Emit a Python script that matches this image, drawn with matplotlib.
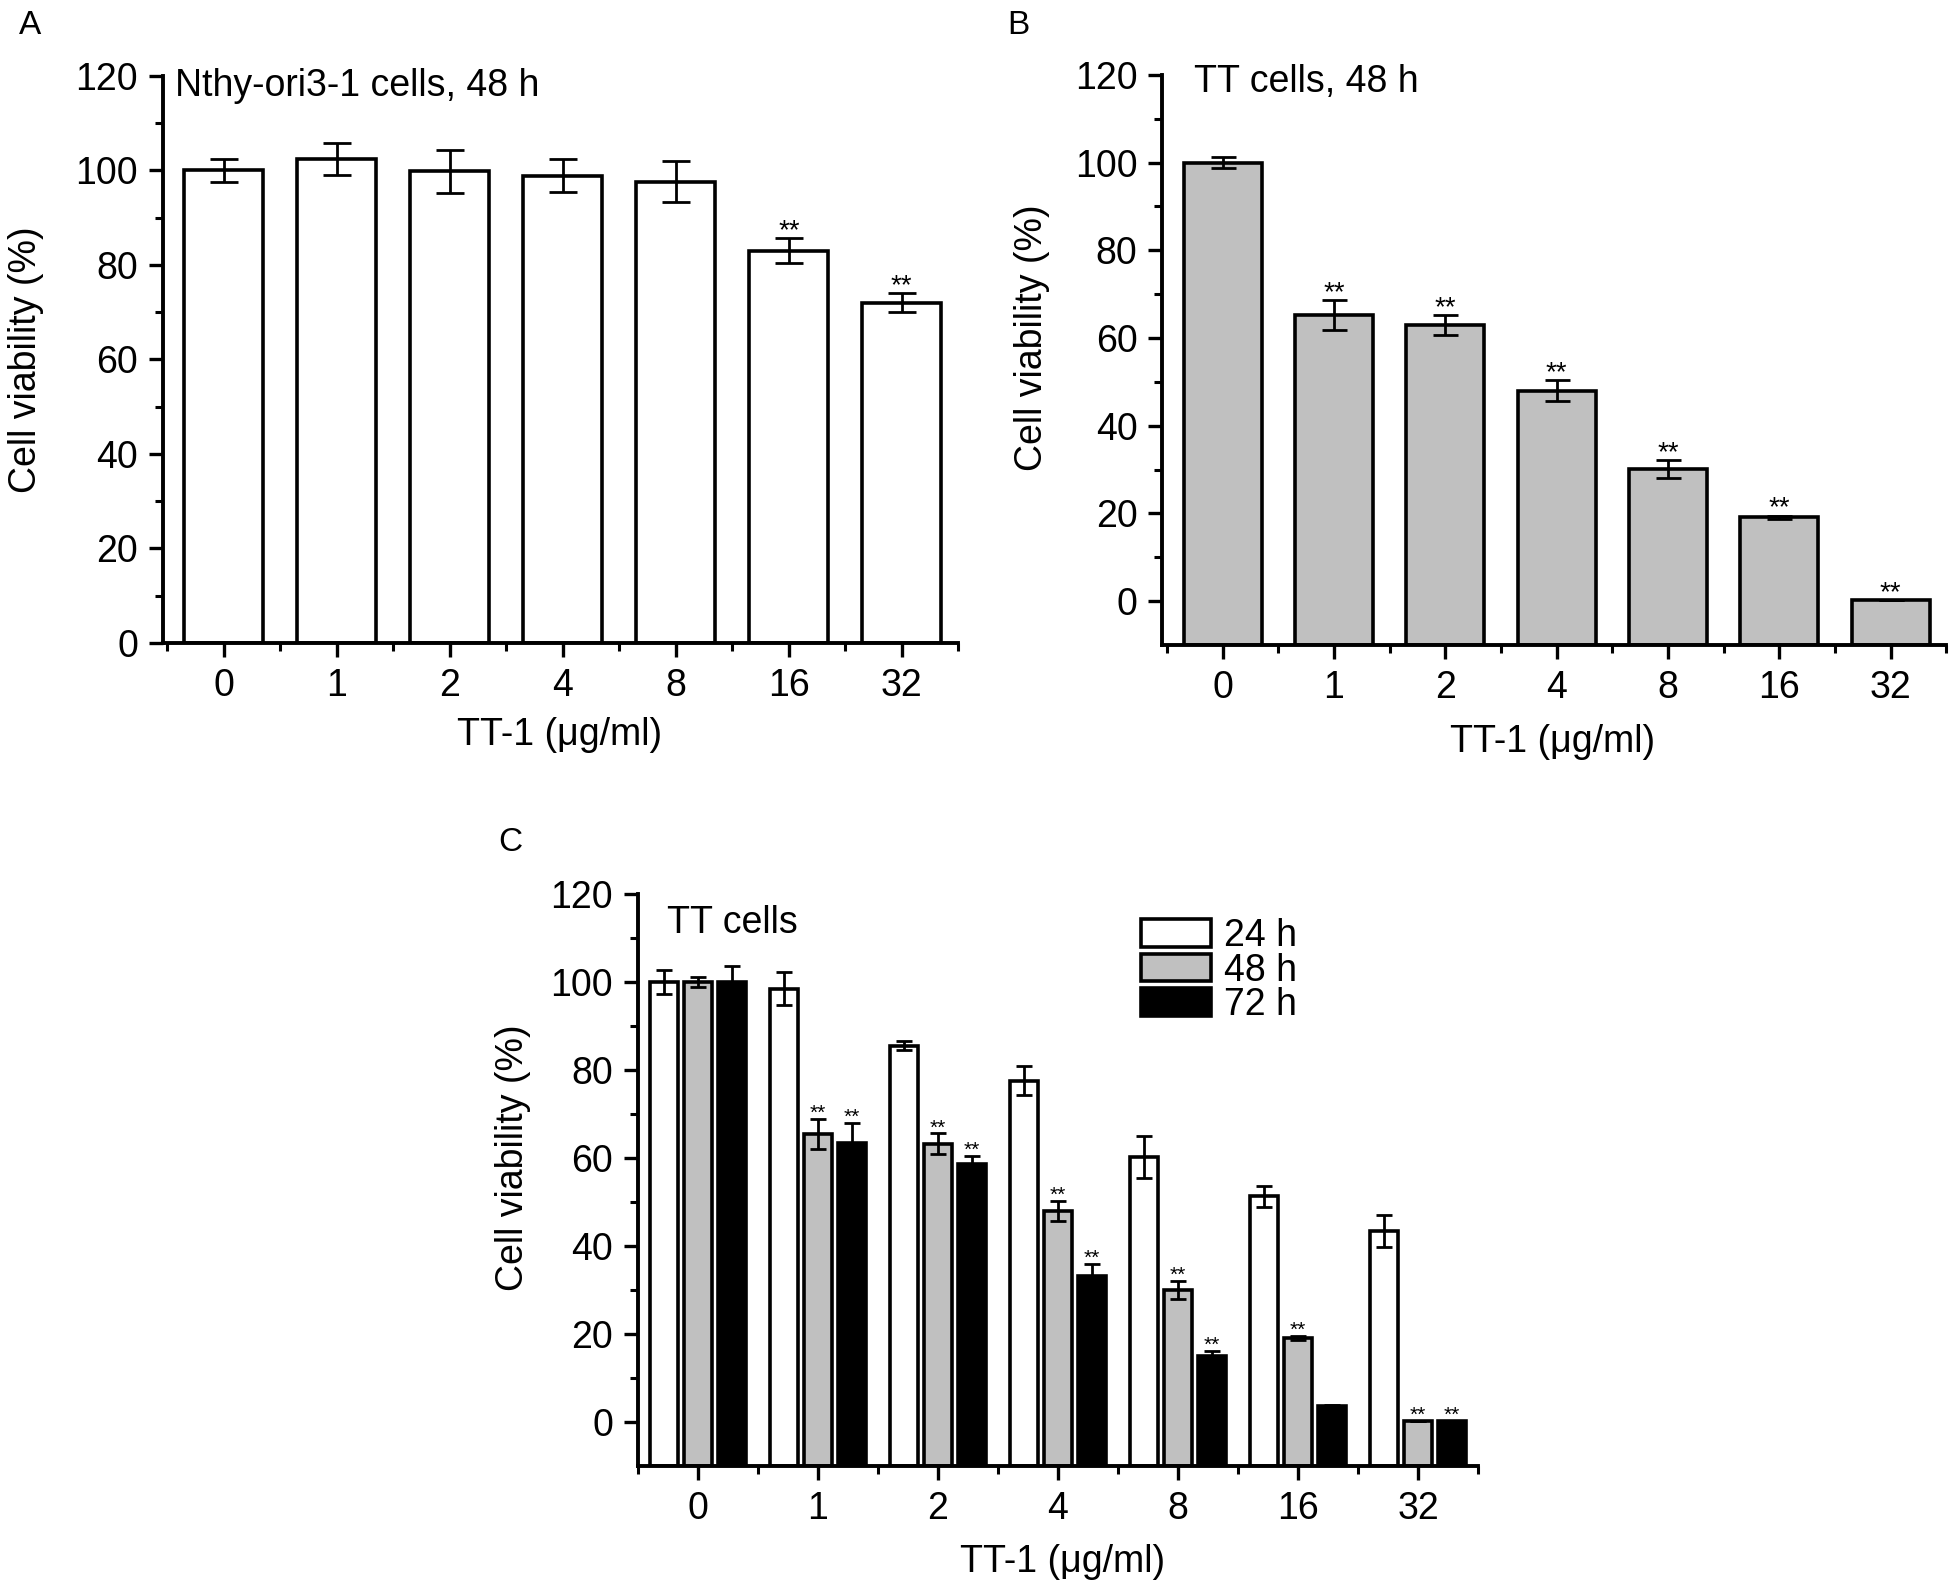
import numpy as np
import matplotlib
matplotlib.use("Agg")
import matplotlib.pyplot as plt

plt.rcParams['font.family'] = ['Liberation Sans', 'DejaVu Sans']

# doses of TT-1 (ug/ml)
conc = ['0', '1', '2', '4', '8', '16', '32']

# panel A: Nthy-ori3-1 cells, 48 h
a_mean = [100.0, 102.4, 99.8, 98.9, 97.6, 83.0, 72.0]
a_err = [2.4, 3.3, 4.5, 3.5, 4.3, 2.6, 2.0]
a_sig = [0, 0, 0, 0, 0, 1, 1]

# panel B: TT cells, 48 h
b_mean = [100.0, 65.3, 63.0, 48.0, 30.1, 19.1, 0.3]
b_err = [1.2, 3.4, 2.3, 2.4, 2.1, 0.4, 0.0]
b_sig = [0, 1, 1, 1, 1, 1, 1]

# panel C: TT cells, 24/48/72 h
c24_mean = [100.0, 98.5, 85.5, 77.6, 60.3, 51.3, 43.4]
c24_err = [2.7, 3.7, 1.0, 3.3, 4.8, 2.4, 3.6]
c24_sig = [0, 0, 0, 0, 0, 0, 0]
c48_mean = [100.0, 65.4, 63.2, 48.0, 30.0, 19.1, 0.3]
c48_err = [1.1, 3.4, 2.4, 2.3, 2.0, 0.4, 0.0]
c48_sig = [0, 1, 1, 1, 1, 1, 1]
c72_mean = [100.0, 63.5, 58.6, 33.2, 15.1, 3.6, 0.2]
c72_err = [3.6, 4.4, 1.9, 2.8, 1.1, 0.3, 0.0]
c72_sig = [0, 1, 1, 1, 1, 0, 1]
c_labels = ['24 h', '48 h', '72 h']

FS = 27
LW = 2.6


def style_axis(ax, ylo, xlo):
    ax.spines['top'].set_visible(False)
    ax.spines['right'].set_visible(False)
    ax.spines['left'].set_linewidth(2.8)
    ax.spines['bottom'].set_linewidth(2.8)
    ax.set_xlim(xlo, 6.5)
    ax.set_ylim(ylo, 120)
    ax.set_xticks(range(len(conc)))
    ax.set_xticklabels(conc)
    ax.set_xticks(np.arange(-0.5, len(conc), 1), minor=True)
    ax.set_yticks(range(0, 121, 20))
    ax.set_yticks(range(0, 121, 10), minor=True)
    ax.tick_params(which='major', direction='out', length=10, width=2.4,
                   labelsize=FS, pad=8)
    ax.tick_params(which='minor', direction='out', length=6, width=2.2)
    ax.set_ylabel('Cell viability (%)', fontsize=FS)
    ax.set_xlabel('TT-1 (\u03bcg/ml)', fontsize=FS)


def add_stars(ax, xs, means, errs, sig, fs):
    for xi, m, e, s in zip(xs, means, errs, sig):
        if s:
            ax.text(xi, m + e, '**', ha='center', va='baseline', fontsize=fs)


fig = plt.figure(figsize=(19.56, 15.93), dpi=100)

x = np.arange(len(conc))
err_style = dict(ecolor='black', elinewidth=2.0, capthick=2.0)

# ---- A
axA = fig.add_axes([0.0833, 0.5964, 0.4066, 0.356])
axA.bar(x, a_mean, 0.70, yerr=a_err, color='white', edgecolor='black',
        linewidth=LW, error_kw=dict(capsize=10, **err_style))
add_stars(axA, x, a_mean, a_err, a_sig, 20)
style_axis(axA, 0, -0.54)
axA.yaxis.set_label_coords(-0.15, 0.5)
axA.xaxis.set_label_coords(0.499, -0.13)
axA.text(0.015, 0.982, 'Nthy-ori3-1 cells, 48 h', transform=axA.transAxes,
         fontsize=FS, ha='left', va='center')

# ---- B  (bars start at the axis floor, -10)
axB = fig.add_axes([0.5943, 0.5951, 0.4008, 0.3579])
axB.bar(x, np.array(b_mean) + 10, 0.70, bottom=-10, yerr=b_err,
        color='#c0c0c0', edgecolor='black', linewidth=LW,
        error_kw=dict(capsize=9, **err_style))
add_stars(axB, x, b_mean, b_err, b_sig, 20)
style_axis(axB, -10, -0.54)
axB.yaxis.set_label_coords(-0.143, 70 / 130)
axB.xaxis.set_label_coords(0.498, -0.138)
axB.text(0.040, 0.987, 'TT cells, 48 h', transform=axB.transAxes,
         fontsize=FS, ha='left', va='center')

# ---- C
axC = fig.add_axes([0.3262, 0.0797, 0.4294, 0.3591])
off = 0.285
w = 0.23
groups = [(c24_mean, c24_err, c24_sig, 'white'),
          (c48_mean, c48_err, c48_sig, '#c0c0c0'),
          (c72_mean, c72_err, c72_sig, 'black')]
for i, (m, e, s, col) in enumerate(groups):
    xs = x + (i - 1) * off
    axC.bar(xs, np.array(m) + 10, w, bottom=-10, yerr=e, color=col,
            edgecolor='black', linewidth=LW, label=c_labels[i],
            error_kw=dict(capsize=6, **err_style))
    add_stars(axC, xs, m, e, s, 15)
style_axis(axC, -10, -0.5)
axC.yaxis.set_label_coords(-0.128, 70 / 130)
axC.xaxis.set_label_coords(0.506, -0.137)
axC.text(0.035, 0.949, 'TT cells', transform=axC.transAxes,
         fontsize=FS, ha='left', va='center')
axC.legend(loc='upper left', bbox_to_anchor=(0.599, 0.958), frameon=False,
           fontsize=FS, handlelength=1.85, handleheight=0.75,
           labelspacing=-0.04, handletextpad=0.35, borderaxespad=0,
           borderpad=0)

# panel letters
fig.text(0.0096, 0.984, 'A', fontsize=24, ha='left', va='center')
fig.text(0.515, 0.984, 'B', fontsize=24, ha='left', va='center')
fig.text(0.2545, 0.4714, 'C', fontsize=24, ha='left', va='center')

fig.savefig('out.png', dpi=100)
